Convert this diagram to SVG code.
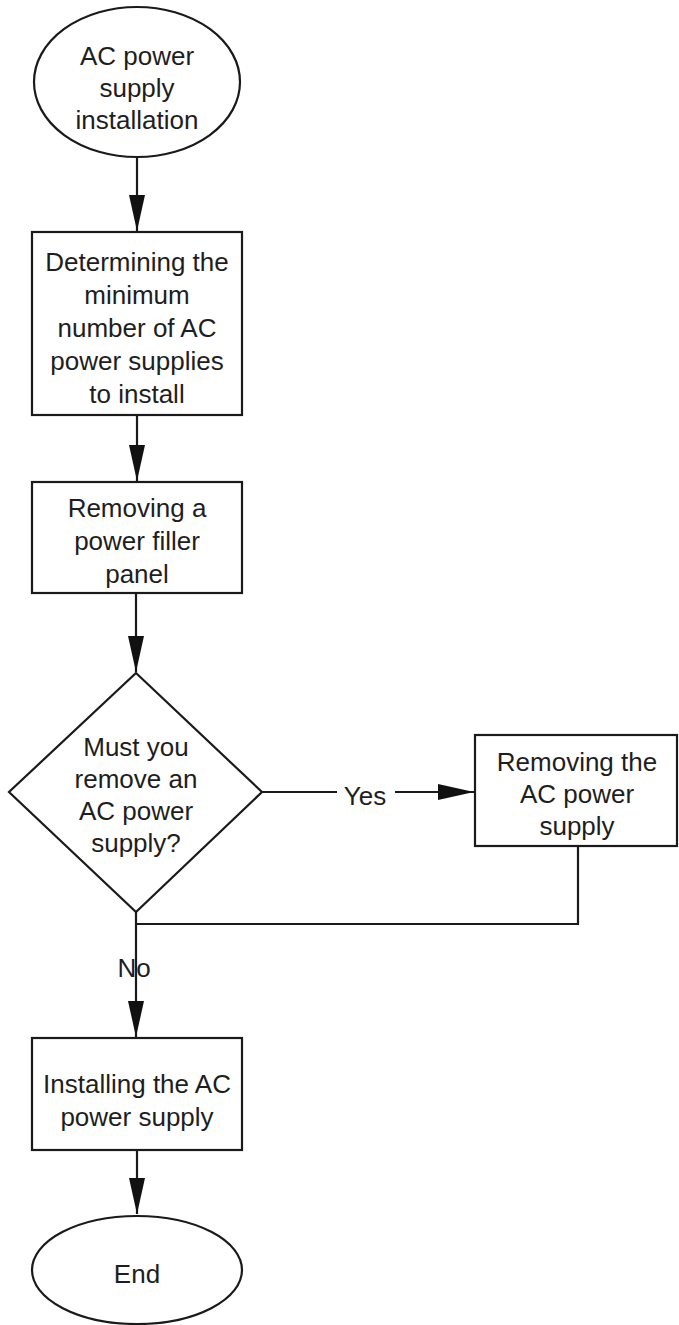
<svg xmlns="http://www.w3.org/2000/svg" width="679" height="1325" viewBox="0 0 679 1325">
<style>
.shape{fill:#ffffff;stroke:#1a1a1a;stroke-width:2.2}
.conn{fill:none;stroke:#1a1a1a;stroke-width:2.2}
.t{font-family:"Liberation Sans",Arial,sans-serif;font-size:26px;fill:#1e1e1e;text-anchor:middle}
</style>
<defs>
<marker id="arr" markerUnits="userSpaceOnUse" markerWidth="37" markerHeight="17" refX="36" refY="8" orient="auto">
<path d="M0,0 L36,8 L0,16 z" fill="#111111"/>
</marker>
</defs>
<rect width="679" height="1325" fill="#ffffff"/>
<g id="connectors">
<path class="conn" d="M137,157 V231" marker-end="url(#arr)"/>
<path class="conn" d="M137,415 V481" marker-end="url(#arr)"/>
<path class="conn" d="M136,593 V672" marker-end="url(#arr)"/>
<path class="conn" d="M262,792 H337 M395,792 H474" marker-end="url(#arr)"/>
<path class="conn" d="M578,846 V924 H136"/>
<path class="conn" d="M136,912 V1037" marker-end="url(#arr)"/>
<path class="conn" d="M137,1150 V1214" marker-end="url(#arr)"/>
<text class="t" x="365" y="805">Yes</text>
<text class="t" x="134" y="977">No</text>
</g>
<g id="start">
<ellipse class="shape" cx="137" cy="82" rx="103" ry="75"/>
<text class="t" x="137" y="65">AC power</text>
<text class="t" x="137" y="97">supply</text>
<text class="t" x="137" y="129">installation</text>
</g>
<g id="determine">
<rect class="shape" x="32" y="232" width="210" height="183"/>
<text class="t" x="137" y="271">Determining the</text>
<text class="t" x="137" y="304">minimum</text>
<text class="t" x="137" y="337">number of AC</text>
<text class="t" x="137" y="370">power supplies</text>
<text class="t" x="137" y="403">to install</text>
</g>
<g id="filler">
<rect class="shape" x="32" y="482" width="210" height="111"/>
<text class="t" x="137" y="517">Removing a</text>
<text class="t" x="137" y="550">power filler</text>
<text class="t" x="137" y="583">panel</text>
</g>
<g id="decision">
<polygon class="shape" points="136,673 262,792 136,912 9,792"/>
<text class="t" x="136" y="756">Must you</text>
<text class="t" x="136" y="788">remove an</text>
<text class="t" x="136" y="820">AC power</text>
<text class="t" x="136" y="852">supply?</text>
</g>
<g id="remove">
<rect class="shape" x="475" y="735" width="202" height="111"/>
<text class="t" x="577" y="771">Removing the</text>
<text class="t" x="577" y="803">AC power</text>
<text class="t" x="577" y="835">supply</text>
</g>
<g id="install">
<rect class="shape" x="32" y="1038" width="210" height="112"/>
<text class="t" x="137" y="1093">Installing the AC</text>
<text class="t" x="137" y="1126">power supply</text>
</g>
<g id="end">
<ellipse class="shape" cx="137" cy="1270" rx="105" ry="54"/>
<text class="t" x="137" y="1283">End</text>
</g>
</svg>
